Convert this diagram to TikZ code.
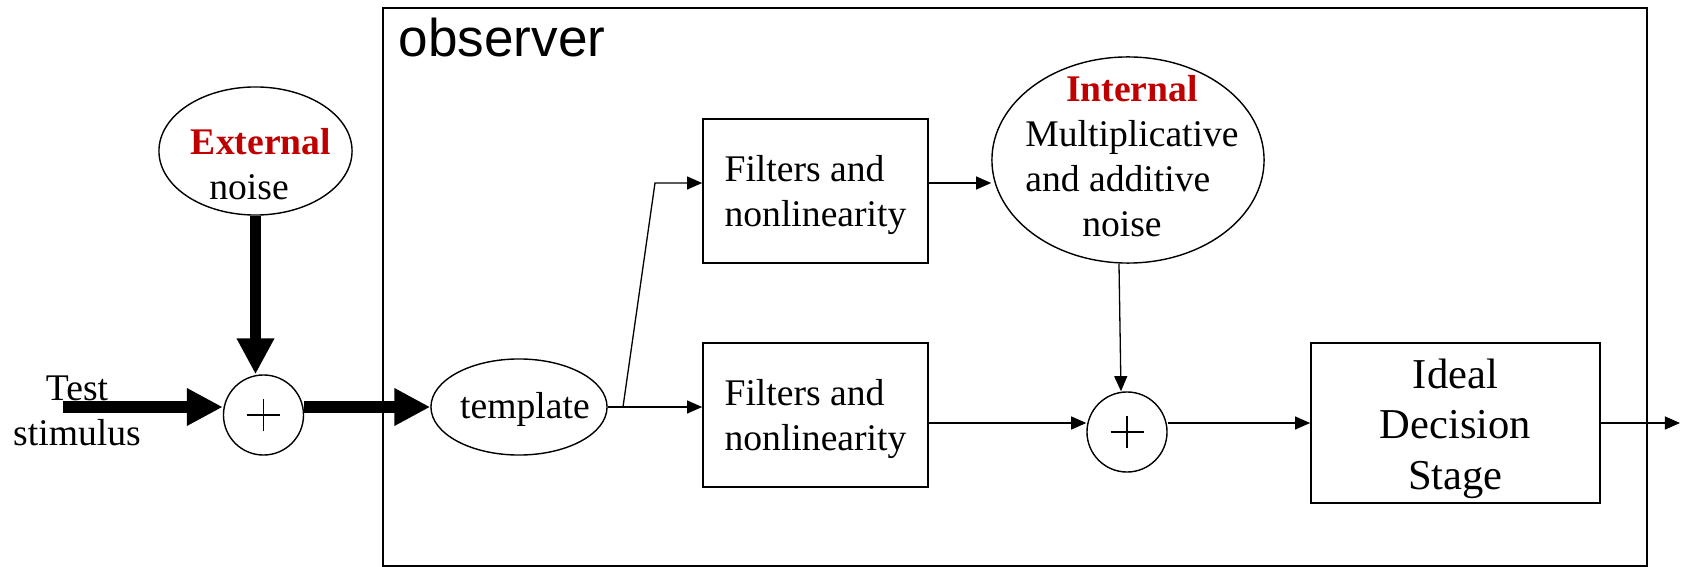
\documentclass[tikz,border=0pt]{standalone}
\usepackage{fontspec}
\setmainfont{Liberation Serif}
\newfontfamily\obsfont{Liberation Sans}
\usetikzlibrary{shapes.geometric,arrows.meta}
\definecolor{noisered}{RGB}{192,0,0}
\tikzset{
  block/.style={draw, line width=0.43pt, minimum width=2.25cm, minimum height=1.44cm, inner sep=0pt, align=left},
  oval/.style={draw, ellipse, line width=0.4pt, inner sep=0pt},
  summer/.style={draw, circle, line width=0.4pt, minimum size=0.8cm, inner sep=0pt,
    path picture={\draw[line width=0.4pt]
      ([xshift=-0.165cm]path picture bounding box.center) -- ([xshift=0.165cm]path picture bounding box.center)
      ([yshift=-0.16cm]path picture bounding box.center) -- ([yshift=0.16cm]path picture bounding box.center);}},
  sigarrow/.style={line width=0.37pt, -{Triangle[length=4.3pt,width=3.7pt]}},
  fatarrow/.style={line width=3.2pt, -{Triangle[length=10.2pt,width=10pt]}}
}
\begin{document}
\begin{tikzpicture}[x=0.01cm, y=-0.01cm, font=\fontsize{10.7}{12.8}\selectfont]
  \useasboundingbox (0,0) rectangle (1681,567);
  % observer frame
  \draw[line width=0.43pt] (383,8) rectangle (1647,566);
  \node[anchor=base west, font=\obsfont\fontsize{15.1}{18}\selectfont, inner sep=0pt] (obs) at (398,57) {observer};

  % external noise and first summer
  \node[oval, minimum width=1.93cm, minimum height=1.28cm] (ext) at (255.5,151) {};
  \node[align=center, inner sep=0pt] (extlbl) at (261,164) {\textcolor{noisered}{\textbf{External}}\\noise\hspace*{6.8pt}};
  \node[summer] (sum1) at (263.5,415) {};
  \coordinate (stim) at (63,407);
  \node[align=center, inner sep=0pt] (stimlbl) at (77,411) {Test\\stimulus};

  % observer stages
  \node[oval, minimum width=1.76cm, minimum height=0.96cm] (tmpl) at (519,407) {};
  \node[inner sep=0pt] (tmpllbl) at (525,409) {template};
  \coordinate (split) at (623,407);
  \coordinate (bend) at (655,183);
  \node[block] (filt1) at (815.5,191) {\rule{0pt}{9.9pt}Filters and\\nonlinearity};
  \node[block] (filt2) at (815.5,415) {\rule{0pt}{9.9pt}Filters and\\nonlinearity};
  \node[oval, minimum width=2.72cm, minimum height=2.06cm] (int) at (1128,160) {};
  \node[align=center, inner sep=0pt] (intlbl) at (1132,156) {\textcolor{noisered}{\textbf{Internal}}\\Multiplicative\\\rlap{and additive}\phantom{Multiplicative}\\noise\hspace*{5.7pt}};
  \node[summer] (sum2) at (1127,432) {};
  \node[block, minimum width=2.89cm, minimum height=1.60cm, align=center, font=\fontsize{12.1}{14.3}\selectfont] (ideal) at (1455.5,423) {\rule{0pt}{11.7pt}Ideal\\Decision\\Stage};
  \coordinate (resp) at (1680,423);

  % connectors
  \draw[fatarrow] (ext.south) -- (ext.south |- sum1.north);
  \draw[fatarrow] (stim) -- (sum1.west |- stim);
  \draw[fatarrow] (sum1.east |- tmpl.west) -- (tmpl.west);
  \draw[line width=0.37pt] (tmpl.east) -- (split);
  \draw[sigarrow] (split) -- (bend) -- (filt1.west |- bend);
  \draw[sigarrow] (split) -- (filt2.west |- split);
  \draw[sigarrow] (filt1.east |- bend) -- (int.west |- bend);
  \draw[sigarrow] ([xshift=-0.09cm]int.south) -- ([xshift=-0.06cm]sum2.north);
  \draw[sigarrow] (filt2.east |- ideal.west) -- (sum2.west |- ideal.west);
  \draw[sigarrow] (sum2.east |- ideal.west) -- (ideal.west);
  \draw[sigarrow] (ideal.east) -- (resp);
\end{tikzpicture}
\end{document}
